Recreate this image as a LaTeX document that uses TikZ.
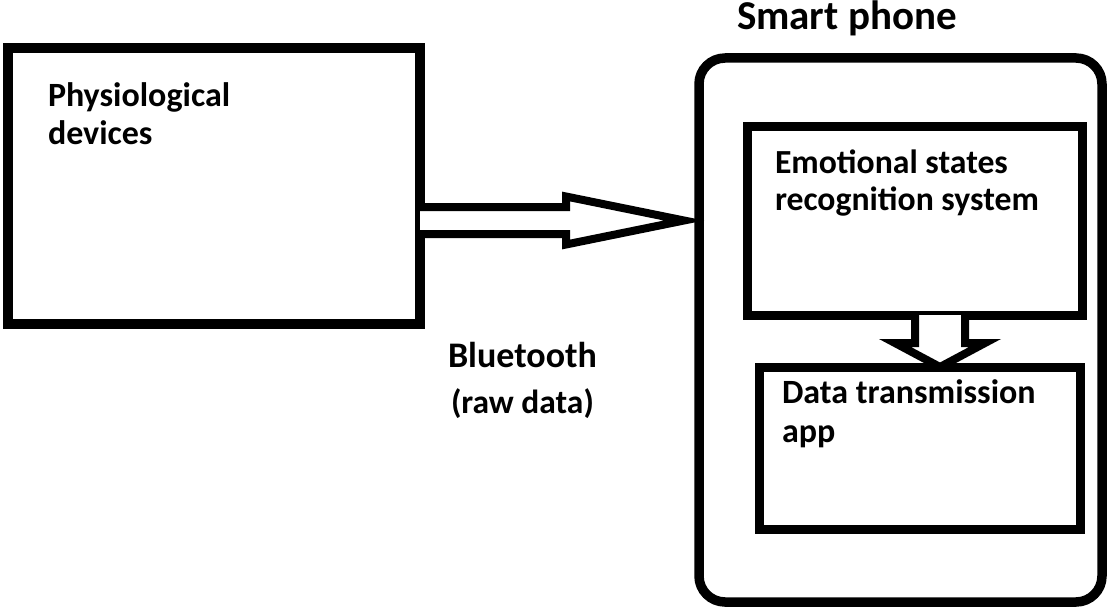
\documentclass[tikz,border=0pt]{standalone}
\usepackage{fontspec}
\setmainfont{Carlito}
\usetikzlibrary{calc}
\tikzset{
  blk/.style={draw=black, line width=10pt, fill=none, inner sep=0pt, outer sep=0pt},
  lbl/.style={anchor=base west, inner sep=0pt, outer sep=0pt, align=left,
              font=\fontsize{34}{38}\selectfont\bfseries},
  bigarrow/.style={draw=black, line width=8pt, line join=miter, fill=white},
}
\begin{document}
\begin{tikzpicture}[x=1pt,y=-1pt]
\useasboundingbox (0,0) rectangle (1108,607);
% boxes
\node[blk, minimum width=412pt, minimum height=276pt] (phys) at (214,186) {};
\node[blk, line width=9.5pt, rounded corners=26pt, minimum width=403pt, minimum height=544pt] (phone) at (900.5,330) {};
\node[blk, line width=9pt, minimum width=335pt, minimum height=188pt] (emo) at (914.5,221) {};
\node[blk, line width=9pt, minimum width=321pt, minimum height=162pt] (data) at (919.5,448) {};
% texts (base anchor = baseline of the last line)
\node[lbl] (tphys) at (48,145) {Physiological\\devices};
\node[lbl, font=\fontsize{36}{40}\selectfont\bfseries] (tbt) at (448,367) {Bluetooth};
\node[lbl, font=\fontsize{33.5}{36}\selectfont\bfseries] (traw) at (451,413) {(raw data)};
\node[lbl, font=\fontsize{41}{44}\selectfont\bfseries] (tphone) at (737,30) {Smart phone};
\node[lbl, font=\fontsize{33.7}{37}\selectfont\bfseries] (temo) at (775,210) {Emotional states\\recognition system};
\node[lbl, font=\fontsize{34}{39}\selectfont\bfseries] (tdata) at (782,442) {Data transmission\\app};
% block arrow: phys -> phone
\coordinate (r0) at (phys.east |- 0,220.5);
\coordinate (r1) at (phone.west |- 0,220.5);
\draw[bigarrow]
  ($(r0)+(0,-13.5)$) -- ($(r0)+(146,-13.5)$) -- ($(r0)+(146,-24)$) -- ($(r1)+(-15,0)$)
  -- ($(r0)+(146,24)$) -- ($(r0)+(146,13.5)$) -- ($(r0)+(0,13.5)$);
% block arrow: emo -> data
\coordinate (d0) at (emo.south -| 940,0);
\coordinate (d1) at (data.north -| 940,0);
\draw[bigarrow]
  ($(d0)+(-25,0)$) -- ($(d0)+(-25,28)$) -- ($(d0)+(-45,28)$) -- (d1)
  -- ($(d0)+(45,28)$) -- ($(d0)+(25,28)$) -- ($(d0)+(25,0)$);
\end{tikzpicture}
\end{document}
